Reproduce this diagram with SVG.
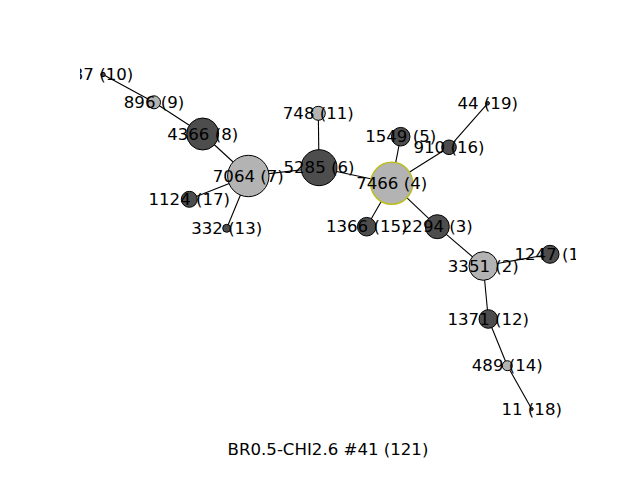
<svg xmlns="http://www.w3.org/2000/svg" width="640" height="480" viewBox="0 0 640 480">
<defs>
<clipPath id="ax"><rect x="80" y="57.6" width="496" height="369.6"/></clipPath>
</defs>
<style>
.e{stroke:#000;stroke-width:1.1;fill:none}
.d{fill:#4d4d4d;stroke:#000;stroke-width:1}
.l{fill:#b3b3b3;stroke:#000;stroke-width:1}
.hl{fill:#b3b3b3;stroke:#bcbd22;stroke-width:1.5}
text{font-family:"DejaVu Sans",sans-serif;font-size:16.6px;fill:#000;text-anchor:middle}
</style>
<rect width="640" height="480" fill="#fff"/>
<g clip-path="url(#ax)">
<g id="edges">
<line class="e" x1="103" y1="74.5" x2="154" y2="102.3"/>
<line class="e" x1="154" y1="102.3" x2="202.7" y2="134"/>
<line class="e" x1="202.7" y1="134" x2="248.3" y2="176"/>
<line class="e" x1="248.3" y1="176" x2="189.3" y2="199.3"/>
<line class="e" x1="248.3" y1="176" x2="226.7" y2="228.3"/>
<line class="e" x1="248.3" y1="176" x2="319" y2="167.7"/>
<line class="e" x1="319" y1="167.7" x2="318.3" y2="113.3"/>
<line class="e" x1="319" y1="167.7" x2="391.7" y2="183.3"/>
<line class="e" x1="391.7" y1="183.3" x2="400.7" y2="136.7"/>
<line class="e" x1="391.7" y1="183.3" x2="449" y2="147.3"/>
<line class="e" x1="449" y1="147.3" x2="487.7" y2="103.3"/>
<line class="e" x1="391.7" y1="183.3" x2="366.7" y2="226.7"/>
<line class="e" x1="391.7" y1="183.3" x2="437.3" y2="226.7"/>
<line class="e" x1="437.3" y1="226.7" x2="483.3" y2="266"/>
<line class="e" x1="483.3" y1="266" x2="550" y2="254.3"/>
<line class="e" x1="483.3" y1="266" x2="488.3" y2="319"/>
<line class="e" x1="488.3" y1="319" x2="507.3" y2="365.7"/>
<line class="e" x1="507.3" y1="365.7" x2="531.7" y2="409"/>
</g>
<g id="n10"><circle class="d" cx="103" cy="74.5" r="2.2"/><text x="103" y="80">37 (10)</text></g>
<g id="n9"><circle class="l" cx="154" cy="102.3" r="6.5"/><text x="154" y="107.8">896 (9)</text></g>
<g id="n8"><circle class="d" cx="202.7" cy="134" r="16"/><text x="202.7" y="139.5">4366 (8)</text></g>
<g id="n7"><circle class="l" cx="248.3" cy="176" r="20.7"/><text x="248.3" y="181.5">7064 (7)</text></g>
<g id="n17"><circle class="d" cx="189.3" cy="199.3" r="8"/><text x="189.3" y="204.8">1124 (17)</text></g>
<g id="n13"><circle class="d" cx="226.7" cy="228.3" r="4"/><text x="226.7" y="233.8">332 (13)</text></g>
<g id="n6"><circle class="d" cx="319" cy="167.7" r="18"/><text x="319" y="173.2">5285 (6)</text></g>
<g id="n11"><circle class="l" cx="318.3" cy="113.3" r="7"/><text x="318.3" y="118.8">748 (11)</text></g>
<g id="n4"><circle class="hl" cx="391.7" cy="183.3" r="21"/><text x="391.7" y="188.8">7466 (4)</text></g>
<g id="n5"><circle class="d" cx="400.7" cy="136.7" r="9.3"/><text x="400.7" y="142.2">1549 (5)</text></g>
<g id="n16"><circle class="d" cx="449" cy="147.3" r="7.3"/><text x="449" y="152.8">910 (16)</text></g>
<g id="n19"><circle class="d" cx="487.7" cy="103.3" r="1.8"/><text x="487.7" y="108.8">44 (19)</text></g>
<g id="n15"><circle class="d" cx="366.7" cy="226.7" r="9.3"/><text x="366.7" y="232.2">1366 (15)</text></g>
<g id="n3"><circle class="d" cx="437.3" cy="226.7" r="12"/><text x="437.3" y="232.2">2294 (3)</text></g>
<g id="n2"><circle class="l" cx="483.3" cy="266" r="14.3"/><text x="483.3" y="271.5">3351 (2)</text></g>
<g id="n1"><circle class="d" cx="550" cy="254.3" r="9"/><text x="550" y="259.8">1247 (1)</text></g>
<g id="n12"><circle class="d" cx="488.3" cy="319" r="9.3"/><text x="488.3" y="324.5">1371 (12)</text></g>
<g id="n14"><circle class="l" cx="507.3" cy="365.7" r="5"/><text x="507.3" y="371.2">489 (14)</text></g>
<g id="n18"><circle class="d" cx="531.7" cy="409" r="1.5"/><text x="531.7" y="414.5">11 (18)</text></g>
</g>
<text x="328" y="455">BR0.5-CHI2.6 #41 (121)</text>
</svg>
